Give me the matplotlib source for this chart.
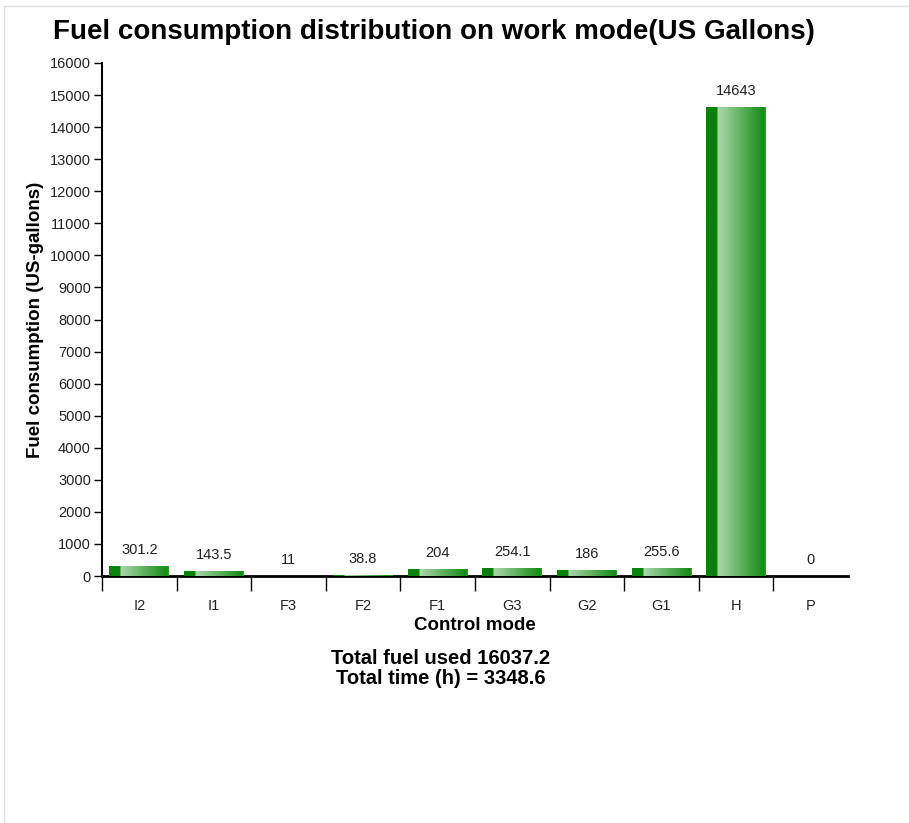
import matplotlib.pyplot as plt
import numpy as np
from matplotlib.colors import LinearSegmentedColormap
from matplotlib.patches import Rectangle

plt.rcParams['font.family'] = ['Liberation Sans', 'DejaVu Sans']

modes = ['I2', 'I1', 'F3', 'F2', 'F1', 'G3', 'G2', 'G1', 'H', 'P']
fuel = [301.2, 143.5, 11, 38.8, 204, 254.1, 186, 255.6, 14643, 0]
labels = ['301.2', '143.5', '11', '38.8', '204', '254.1', '186', '255.6', '14643', '0']
total_fuel = 16037.2
total_time = 3348.6

fig = plt.figure(figsize=(9.09, 8.23), dpi=100)
ax = fig.add_axes([102/909, 1-576/823, 746/909, 513/823])

x = np.arange(len(modes))
bars = ax.bar(x, fuel, width=0.8, color='#0b860b', edgecolor='none', zorder=2)

# horizontal shading on every bar: dark strip on the left, then light fading to green
cmap = LinearSegmentedColormap.from_list('bar', [
    (0.0, '#0a820a'), (0.19, '#0a820a'), (0.191, '#acd8ac'),
    (0.55, '#66b666'), (0.97, '#148a14'), (1.0, '#3a9e3a')])
grad = np.linspace(0, 1, 256).reshape(1, -1)
for b in bars:
    h = b.get_height()
    if h <= 0:
        continue
    x0 = b.get_x()
    w = b.get_width()
    im = ax.imshow(grad, cmap=cmap, aspect='auto', extent=[x0, x0 + w, 0, h],
                   zorder=3, interpolation='bilinear')
    im.set_clip_path(b)

for xi, v, lab in zip(x, fuel, labels):
    ax.text(xi, v + 280, lab, ha='center', va='bottom', fontsize=10.5, color='#222222')

ax.set_xlim(-0.5, len(modes) - 0.5)
ax.set_ylim(0, 16000)
ax.set_yticks(np.arange(0, 16001, 1000))
ax.set_xticks(x)
ax.set_xticklabels(modes, fontsize=10.5, color='#222222')
ax.set_xticks(np.arange(-0.5, len(modes) - 1, 1), minor=True)
ax.tick_params(axis='x', which='major', length=0, pad=16.5)
ax.tick_params(axis='x', which='minor', length=11, width=1, direction='out')
ax.tick_params(axis='y', length=6, width=1, labelsize=10.5, labelcolor='#222222', pad=2)

for s in ['top', 'right']:
    ax.spines[s].set_visible(False)
ax.spines['left'].set_linewidth(1.5)
ax.spines['bottom'].set_linewidth(2)

ax.set_xlabel('Control mode', fontsize=13.5, fontweight='bold', labelpad=3)
ax.set_ylabel('Fuel consumption (US-gallons)', fontsize=13.5, fontweight='bold', labelpad=4)

fig.text(434/909, 1-32/823, 'Fuel consumption distribution on work mode(US Gallons)',
         ha='center', va='center', fontsize=20, fontweight='bold')
fig.text(441/909, 1-658/823, 'Total fuel used %s' % total_fuel,
         ha='center', va='center', fontsize=14.5, fontweight='bold')
fig.text(441/909, 1-679/823, 'Total time (h) = %s' % total_time,
         ha='center', va='center', fontsize=14.5, fontweight='bold')

# light frame around the chart area
fig.patches.append(Rectangle((4/909, -0.1), 1.1, 1 - 6/823 + 0.1, transform=fig.transFigure,
                             fill=False, edgecolor='#dddddd', linewidth=1))

fig.savefig('out.png', dpi=100)
